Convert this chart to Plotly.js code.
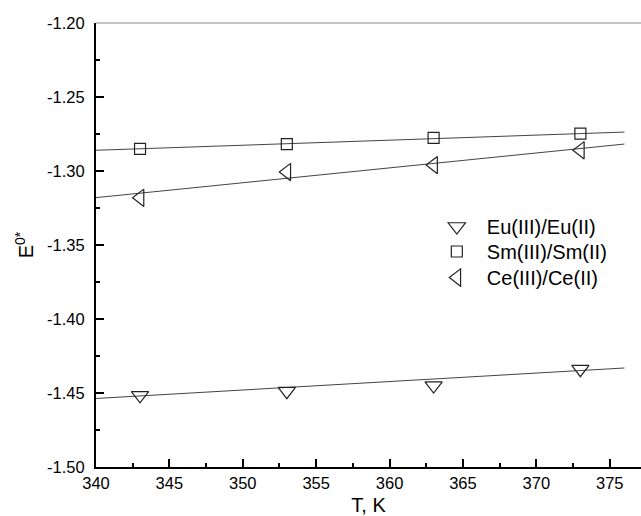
<!DOCTYPE html>
<html>
<head>
<meta charset="utf-8">
<script src="https://cdn.plot.ly/plotly-3.0.1.min.js"></script>
<style>
html,body{margin:0;padding:0;background:#fff;}
#chart{width:641px;height:516px;}
</style>
</head>
<body>
<div id="chart"></div>
<script>
// Temperatures (K)
const temps = [343, 353, 363, 373];
// E0* values
const euValues = [-1.4516, -1.4488, -1.4450, -1.4339];
const smValues = [-1.2850, -1.2818, -1.2776, -1.2747];
const ceValues = [-1.3181, -1.3007, -1.2960, -1.2860];
// Linear fit end points
const fitX = [340, 376];
const euFit = [-1.4537, -1.4331];
const smFit = [-1.2860, -1.2737];
const ceFit = [-1.3180, -1.2818];
// Series names
const seriesNames = ['Eu(III)/Eu(II)', 'Sm(III)/Sm(II)', 'Ce(III)/Ce(II)'];
// Tick labels
const xTickVals = [340, 345, 350, 355, 360, 365, 370, 375];
const xTickText = ['340', '345', '350', '355', '360', '365', '370', '375'];
const yTickVals = [-1.50, -1.45, -1.40, -1.35, -1.30, -1.25, -1.20];
const yTickText = ['-1.50', '-1.45', '-1.40', '-1.35', '-1.30', '-1.25', '-1.20'];

const lineStyle = {color: '#444', width: 1};
const mk = (sym, size) => ({symbol: sym, size: size, color: '#222', line: {color: '#222', width: 1.2}});

const traces = [
  {x: fitX, y: euFit, mode: 'lines', line: lineStyle, showlegend: false, hoverinfo: 'skip'},
  {x: fitX, y: smFit, mode: 'lines', line: lineStyle, showlegend: false, hoverinfo: 'skip'},
  {x: fitX, y: ceFit, mode: 'lines', line: lineStyle, showlegend: false, hoverinfo: 'skip'},
  {x: temps, y: euValues, mode: 'markers', name: seriesNames[0], legend: 'legend', marker: mk('triangle-down-open', 15)},
  {x: temps, y: smValues, mode: 'markers', name: seriesNames[1], legend: 'legend2', marker: mk('square-open', 11)},
  {x: temps, y: ceValues, mode: 'markers', name: seriesNames[2], legend: 'legend3', marker: mk('triangle-left-open', 15)}
];

const font = {family: '"Liberation Sans", Arial, sans-serif', color: '#000'};
const legendBase = (y) => ({
  x: 0.607, xanchor: 'left', y: y, yanchor: 'top',
  bgcolor: 'rgba(0,0,0,0)', borderwidth: 0,
  itemwidth: 50,
  font: Object.assign({}, font, {size: 20})
});

const layout = {
  width: 641, height: 516,
  margin: {l: 96, r: 0, t: 23, b: 49, pad: 0},
  paper_bgcolor: '#fff', plot_bgcolor: '#fff',
  font: Object.assign({}, font, {size: 16.5}),
  showlegend: true,
  legend: legendBase(0.5856),
  legend2: legendBase(0.5293),
  legend3: legendBase(0.4707),
  xaxis: {
    range: [340, 377.13],
    showgrid: false, zeroline: false,
    showline: true, linecolor: '#000', linewidth: 2,
    ticks: 'inside', ticklen: 8, tickwidth: 2, tickcolor: '#000',
    tickmode: 'array', tickvals: xTickVals, ticktext: xTickText,
    ticklabelstandoff: 0,
    tickfont: Object.assign({}, font, {size: 16.5}),
    minor: {ticks: 'inside', ticklen: 4, tickwidth: 2, tickcolor: '#000', dtick: 2.5, tick0: 340, showgrid: false},
    title: {text: 'T, K', font: Object.assign({}, font, {size: 20}), standoff: 14}
  },
  yaxis: {
    range: [-1.50, -1.20],
    showgrid: false, zeroline: false,
    showline: true, linecolor: '#000', linewidth: 2,
    ticks: 'inside', ticklen: 8, tickwidth: 2, tickcolor: '#000',
    tickmode: 'array', tickvals: yTickVals, ticktext: yTickText,
    ticklabelstandoff: 6,
    tickfont: Object.assign({}, font, {size: 16.5}),
    minor: {ticks: 'inside', ticklen: 4, tickwidth: 2, tickcolor: '#000', dtick: 0.025, tick0: -1.5, showgrid: false},
    title: {text: 'E<sup>0*</sup>', font: Object.assign({}, font, {size: 20}), standoff: 8}
  },
  shapes: [
    {type: 'line', xref: 'paper', yref: 'paper', x0: 0, x1: 1, y0: 1, y1: 1, line: {color: '#888', width: 1}}
  ]
};

Plotly.newPlot('chart', traces, layout, {staticPlot: true, displayModeBar: false});
</script>
</body>
</html>
